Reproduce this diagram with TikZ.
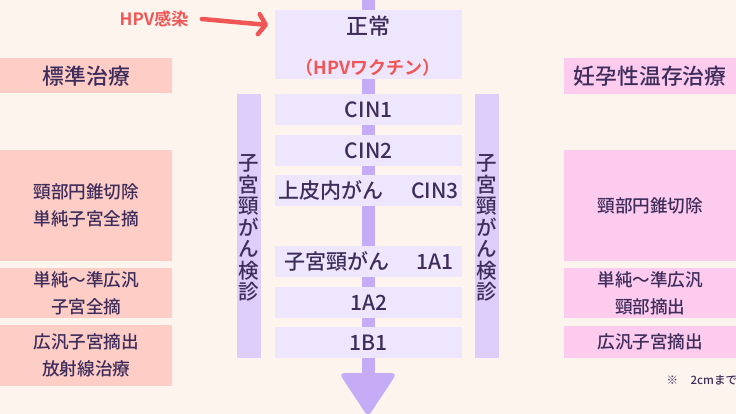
\documentclass[tikz,border=0pt]{standalone}
\usepackage{fontspec}
\setmainfont{Noto Sans CJK JP}[UprightFont={* Medium},BoldFont={* Bold}]
\usepackage{tikz}
\usetikzlibrary{arrows.meta,calc,positioning}
\usepackage{xcolor}
\definecolor{PaperCream}{HTML}{FDF4EE}
\definecolor{StageLilac}{HTML}{EEE6FD}
\definecolor{ShaftPurple}{HTML}{C6ABF6}
\definecolor{ScreenLilac}{HTML}{DDCDFB}
\definecolor{StandardSalmon}{HTML}{FDCDC6}
\definecolor{FertilityPink}{HTML}{FCCBEE}
\definecolor{InkPurple}{HTML}{3E2D5B}
\definecolor{InfectRed}{HTML}{F05656}
\tikzset{
  stagebox/.style={fill=StageLilac, anchor=north west, minimum width=187pt,
    minimum height=31pt, inner sep=0pt, text=InkPurple,
    font=\fontsize{21}{23}\selectfont},
  screenbar/.style={fill=ScreenLilac, anchor=north west, minimum width=24pt,
    minimum height=264pt, inner sep=0pt},
  screentext/.style={text=InkPurple, align=center, inner sep=0pt,
    font=\fontsize{20.5}{21.5}\selectfont},
  treatbox/.style={anchor=north west, minimum width=172pt, inner sep=0pt,
    text=InkPurple, align=center, font=\fontsize{17.6}{27}\selectfont},
  headbox/.style={treatbox, font=\fontsize{21.8}{24}\selectfont},
}
\begin{document}
\begin{tikzpicture}[x=1pt,y=-1pt]
    \useasboundingbox[fill=PaperCream] (0,0) rectangle (736,414);
    % main flow
    \coordinate (flowtop) at (368,0);
    \coordinate (flowend) at (368,373);
    \draw[ShaftPurple,line width=13pt] (flowtop) -- (flowend);
    \fill[ShaftPurple,rounded corners=5pt] ($(flowend)+(-29,0)$) -- ($(flowend)+(29,0)$)
      -- ($(flowend)+(0,44)$) -- cycle;
    \node[stagebox,minimum height=69pt,text depth=38pt,font=\fontsize{22}{24}\selectfont] (normal) at (275,10) {正常};
    \node[text=InfectRed,font=\bfseries\fontsize{18}{20}\selectfont] (vaccine) at (368,68) {（HPVワクチン）};
    \foreach \ytop/\name/\stage in {94/cinone/CIN1,135/cintwo/CIN2,
      175/cinthree/上皮内がん\hspace{1.3em}CIN3,246/aone/子宮頸がん\hspace{1.3em}1A1,
      287/atwo/1A2,327/bone/1B1} {
     \node[stagebox] (\name) at (275,\ytop) {\stage};
    }
    % screening bars
    \node[screenbar] (leftbar) at (237,94) {};
    \node[screenbar] (rightbar) at (475,94) {};
    \foreach \bar in {leftbar,rightbar} {
     \node[screentext] at ($(\bar.center)+(0,2)$) {子\\宮\\頸\\が\\ん\\検\\診};
    }
    % infection
    \node[text=InfectRed,font=\bfseries\fontsize{17}{19}\selectfont] (hpv) at (154,19) {HPV感染};
    \draw[InfectRed,line width=4.5pt,line cap=round,
      -{Straight Barb[length=7pt,width=20pt,round]}]
      ([xshift=10pt]hpv.east) -- ([xshift=-7pt,yshift=-15pt]normal.north west);
    % standard treatment
    \node[headbox,fill=StandardSalmon,minimum height=35pt] (standard) at (0,58) {標準治療};
    \node[treatbox,fill=StandardSalmon,minimum height=111pt] (stdcone) at (0,150) {頸部円錐切除\\単純子宮全摘};
    \node[treatbox,fill=StandardSalmon,minimum height=50pt] (stdsimple) at (0,268) {単純〜準広汎\\子宮全摘};
    \node[treatbox,fill=StandardSalmon,minimum height=61pt] (stdradical) at (0,325) {広汎子宮摘出\\放射線治療};
    % fertility sparing treatment
    \node[headbox,fill=FertilityPink,minimum height=36pt] (sparing) at (564,58) {妊孕性温存治療};
    \node[treatbox,fill=FertilityPink,minimum height=111pt] (sparecone) at (564,150) {頸部円錐切除};
    \node[treatbox,fill=FertilityPink,minimum height=50pt] (sparesimple) at (564,268) {単純〜準広汎\\頸部摘出};
    \node[treatbox,fill=FertilityPink,minimum height=32pt] (spareradical) at (564,326) {広汎子宮摘出};
    \node[anchor=west,text=InkPurple,font=\fontsize{11.5}{13}\selectfont] (note) at (663,380) {※\hspace{1.1em}2cmまで};
   \end{tikzpicture}
\end{document}
